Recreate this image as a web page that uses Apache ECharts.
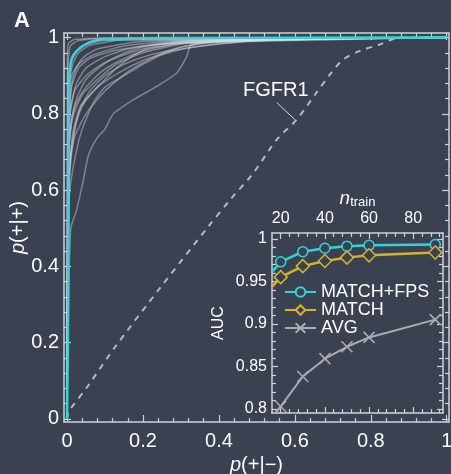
<!DOCTYPE html>
<html>
<head>
    <meta charset="utf-8">
    <title>ROC</title>
    <script src="https://cdn.jsdelivr.net/npm/echarts@6.0.0/dist/echarts.min.js"></script>
    <style>
        html, body { margin: 0; padding: 0; background: #3a4151; }
        #chartmain { width: 451px; height: 474px; }
    </style>
</head>
<body>
<div id="chartmain"></div>
<script type="text/javascript">

    // ROC curves of the single targets (grey), [p(+|-), p(+|+)]
    var rocCurves = [
        [[0,0],[0.004,0.3],[0.01,0.5],[0.025,0.547],[0.043,0.626],[0.056,0.69],[0.078,0.735],[0.1,0.76],[0.122,0.8],[0.175,0.837],[0.236,0.872],[0.289,0.907],[0.315,0.95],[0.328,0.982],[0.45,0.993],[0.7,0.998],[1,1]],
        [[0,0],[0.003,0.55],[0.01,0.7],[0.02,0.76],[0.04,0.82],[0.08,0.87],[0.14,0.91],[0.2,0.94],[0.26,0.96],[0.3,0.975],[0.4,0.99],[0.6,0.997],[1,1]],
        [[0,0],[0.004,0.65],[0.01,0.78],[0.025,0.83],[0.05,0.87],[0.09,0.91],[0.14,0.94],[0.2,0.965],[0.3,0.985],[0.5,0.996],[1,1]],
        [[0,0],[0.003,0.7],[0.008,0.8],[0.02,0.86],[0.05,0.9],[0.1,0.935],[0.18,0.965],[0.3,0.99],[1,1]],
        [[0,0],[0.005,0.6],[0.015,0.72],[0.03,0.8],[0.06,0.86],[0.1,0.9],[0.15,0.93],[0.22,0.955],[0.3,0.97],[0.45,0.988],[1,1]],
        [[0,0],[0.004,0.75],[0.01,0.86],[0.02,0.91],[0.04,0.945],[0.08,0.97],[0.2,0.99],[1,1]],
        [[0,0],[0.006,0.58],[0.02,0.68],[0.04,0.76],[0.07,0.83],[0.1,0.87],[0.15,0.9],[0.2,0.93],[0.25,0.955],[0.33,0.975],[0.5,0.992],[1,1]],
        [[0,0],[0.003,0.8],[0.008,0.89],[0.015,0.93],[0.03,0.96],[0.06,0.98],[0.15,0.994],[1,1]],
        [[0,0],[0.004,0.68],[0.012,0.78],[0.025,0.84],[0.05,0.89],[0.09,0.925],[0.13,0.95],[0.18,0.97],[0.25,0.985],[0.4,0.995],[1,1]],
        [[0,0],[0.002,0.85],[0.006,0.92],[0.015,0.955],[0.04,0.978],[0.1,0.993],[1,1]],
        [[0,0],[0.005,0.62],[0.015,0.75],[0.035,0.82],[0.06,0.85],[0.09,0.88],[0.13,0.92],[0.17,0.95],[0.21,0.97],[0.3,0.985],[0.55,0.995],[1,1]],
        [[0,0],[0.003,0.72],[0.01,0.82],[0.025,0.88],[0.05,0.92],[0.1,0.95],[0.16,0.97],[0.25,0.983],[0.4,0.99],[0.7,0.997],[1,1]],
        [[0,0],[0.002,0.9],[0.005,0.96],[0.01,0.98],[0.03,0.992],[0.1,0.998],[1,1]],
        [[0,0],[0.004,0.78],[0.012,0.87],[0.03,0.92],[0.06,0.945],[0.12,0.965],[0.22,0.98],[0.35,0.99],[1,1]],
        [[0,0],[0.001,0.95],[0.004,0.985],[0.02,0.995],[0.1,0.999],[1,1]],
        [[0,0],[0.006,0.66],[0.02,0.74],[0.05,0.8],[0.1,0.86],[0.16,0.91],[0.22,0.945],[0.28,0.97],[0.36,0.985],[0.6,0.996],[1,1]],
        [[0,0],[0.004,0.7],[0.015,0.79],[0.04,0.85],[0.08,0.89],[0.13,0.93],[0.2,0.96],[0.32,0.985],[1,1]],
        [[0,0],[0.003,0.82],[0.012,0.9],[0.03,0.93],[0.07,0.955],[0.15,0.978],[0.3,0.992],[1,1]]
    ];

    // averaged MATCH+FPS ROC (cyan)
    var rocMatchFps = [[0,0],[0.003,0.3],[0.004,0.85],[0.006,0.9],[0.008,0.916],[0.012,0.942],[0.025,0.964],[0.043,0.979],[0.069,0.991],[0.113,0.9955],[0.2,0.998],[0.289,0.999],[1,1]];

    // FGFR1 (dashed)
    var rocFgfr1 = [[0,0],[0.005,0.02],[0.054,0.085],[0.126,0.188],[0.25,0.35],[0.371,0.503],[0.429,0.574],[0.49,0.644],[0.552,0.732],[0.604,0.784],[0.653,0.85],[0.69,0.9],[0.727,0.942],[0.771,0.965],[0.824,0.982],[0.876,1],[1,1]];

    // inset: AUC vs n_train
    var nTrain = [16, 20, 30, 40, 50, 60, 90];
    var aucMatchFps = [0.961, 0.973, 0.985, 0.989, 0.9915, 0.9925, 0.9935];
    var aucMatch = [0.9435, 0.955, 0.968, 0.974, 0.978, 0.9807, 0.984];
    var aucAvg = [0.789, 0.8027, 0.838, 0.859, 0.873, 0.884, 0.905];

    // tick labels
    var mainTicks = [0, 0.2, 0.4, 0.6, 0.8, 1];
    var insetXTicks = [20, 40, 60, 80];
    var insetYTicks = [0.8, 0.85, 0.9, 0.95, 1];

    var bg = '#3a4151';
    var frame = '#cfd1d6';
    var font = 'Liberation Sans, Arial, Helvetica, sans-serif';

    function minorList(from, to, step, majors) {
        var out = [];
        for (var v = from; v <= to + 1e-9; v += step) {
            var r = Math.round(v * 1000) / 1000;
            var isMajor = majors.some(function (m) { return Math.abs(m - r) < 1e-6; });
            if (!isMajor) out.push(r);
        }
        return out;
    }

    // one frame side (ticks inside, optional labels)
    function side(gridIndex, pos, min, max, ticks, len, showLine, label) {
        var ax = {
            type: 'value', gridIndex: gridIndex, position: pos, min: min, max: max,
            axisLine: { show: showLine, onZero: false, lineStyle: { color: frame, width: 1.5 } },
            axisTick: { show: true, inside: true, length: len, customValues: ticks, lineStyle: { color: frame, width: 1.2 } },
            axisLabel: { show: false },
            splitLine: { show: false }
        };
        if (label) {
            ax.axisLabel = {
                show: true, customValues: ticks, color: '#fff',
                fontFamily: font, fontSize: label.size, margin: label.margin
            };
        }
        return ax;
    }

    var mainMinor = minorList(0, 1, 0.04, mainTicks);
    var inXMinor = minorList(16, 92, 4, insetXTicks);
    var inYMinor = minorList(0.8, 1, 0.01, insetYTicks);

    var mx = [-0.008, 1.006], my = [-0.008, 1.012];
    var ix = [16.05, 93.5], iy = [0.795, 1.007];

    var xAxes = [
        side(0, 'bottom', mx[0], mx[1], mainTicks, 7, true, { size: 20, margin: 9 }),
        side(0, 'bottom', mx[0], mx[1], mainMinor, 4, false),
        side(0, 'top', mx[0], mx[1], mainTicks, 7, true),
        side(0, 'top', mx[0], mx[1], mainMinor, 4, false),
        side(1, 'top', ix[0], ix[1], insetXTicks, 6, true, { size: 16, margin: 6 }),
        side(1, 'top', ix[0], ix[1], inXMinor, 4, false),
        side(1, 'bottom', ix[0], ix[1], insetXTicks, 6, true),
        side(1, 'bottom', ix[0], ix[1], inXMinor, 4, false)
    ];
    var yAxes = [
        side(0, 'left', my[0], my[1], mainTicks, 7, true, { size: 20, margin: 5 }),
        side(0, 'left', my[0], my[1], mainMinor, 4, false),
        side(0, 'right', my[0], my[1], mainTicks, 7, true),
        side(0, 'right', my[0], my[1], mainMinor, 4, false),
        side(1, 'left', iy[0], iy[1], insetYTicks, 6, true, { size: 16, margin: 5 }),
        side(1, 'left', iy[0], iy[1], inYMinor, 4, false),
        side(1, 'right', iy[0], iy[1], insetYTicks, 6, true),
        side(1, 'right', iy[0], iy[1], inYMinor, 4, false)
    ];

    // axis names
    xAxes[0].name = '{i|p}(+|\u2212)';
    xAxes[0].nameLocation = 'middle';
    xAxes[0].nameGap = 32;
    xAxes[0].nameTextStyle = { color: '#fff', fontFamily: font, fontSize: 20,
        rich: { i: { fontStyle: 'italic', fontSize: 20, color: '#fff', fontFamily: font } } };
    yAxes[0].name = '{i|p}(+|+)';
    yAxes[0].nameLocation = 'middle';
    yAxes[0].nameGap = 36;
    yAxes[0].nameMoveOverlap = false;
    yAxes[0].nameTextStyle = { color: '#fff', fontFamily: font, fontSize: 20,
        rich: { i: { fontStyle: 'italic', fontSize: 20, color: '#fff', fontFamily: font } } };
    xAxes[4].name = '{n|n}{s|train}';
    xAxes[4].nameLocation = 'middle';
    xAxes[4].nameGap = 24;
    xAxes[4].nameTextStyle = { color: '#fff', fontFamily: font,
        rich: {
            n: { fontStyle: 'italic', fontSize: 19, color: '#fff', fontFamily: font, lineHeight: 20 },
            s: { fontSize: 13, color: '#fff', fontFamily: font, lineHeight: 20, padding: [7, 0, 0, 0] }
        } };
    yAxes[4].name = 'AUC';
    yAxes[4].nameLocation = 'middle';
    yAxes[4].nameGap = 45;
    yAxes[4].nameTextStyle = { color: '#fff', fontFamily: font, fontSize: 16 };

    var series = [];
    rocCurves.forEach(function (c) {
        series.push({
            type: 'line', xAxisIndex: 0, yAxisIndex: 0, data: c,
            showSymbol: false, smooth: 0.2, silent: true,
            lineStyle: { color: 'rgba(225,225,228,0.42)', width: 1.5 }
        });
    });
    series.push({
        type: 'line', xAxisIndex: 0, yAxisIndex: 0, data: rocFgfr1,
        showSymbol: false, smooth: 0.3, silent: true,
        lineStyle: { color: '#b4b8c0', width: 2, type: [6, 6] },
        markLine: {
            symbol: 'none', silent: true, label: { show: false },
            lineStyle: { color: '#d8d8d8', width: 1, type: 'solid' },
            data: [[{ coord: [0.552, 0.83] }, { coord: [0.6, 0.785] }]]
        }
    });
    series.push({
        type: 'line', xAxisIndex: 0, yAxisIndex: 0, data: rocMatchFps, z: 4,
        showSymbol: false, smooth: 0.3, silent: true,
        lineStyle: { color: '#33d3d8', width: 2.5 }
    });

    function insetData(vals) {
        return nTrain.map(function (n, i) {
            var d = { value: [n, vals[i]] };
            if (i === 0) d.symbol = 'none';
            return d;
        });
    }

    series.push({
        name: 'MATCH+FPS', type: 'line', xAxisIndex: 4, yAxisIndex: 4,
        data: insetData(aucMatchFps), symbol: 'circle', symbolSize: 10, z: 5,
        lineStyle: { color: '#33d3d8', width: 2.5 },
        itemStyle: { color: bg, borderColor: '#33d3d8', borderWidth: 1.5 }
    });
    series.push({
        name: 'MATCH', type: 'line', xAxisIndex: 4, yAxisIndex: 4,
        data: insetData(aucMatch), symbol: 'diamond', symbolSize: 13, z: 5,
        lineStyle: { color: '#d4b526', width: 2.5 },
        itemStyle: { color: bg, borderColor: '#d4b526', borderWidth: 1.5 }
    });
    series.push({
        name: 'AVG', type: 'line', xAxisIndex: 4, yAxisIndex: 4,
        data: insetData(aucAvg), symbol: 'path://M0,0L10,10M10,0L0,10', symbolSize: 11, z: 5,
        lineStyle: { color: '#a9acb2', width: 2 },
        itemStyle: { color: 'none', borderColor: '#a9acb2', borderWidth: 1.6 }
    });

    var myChart = echarts.init(document.getElementById('chartmain'));
    myChart.setOption({
        backgroundColor: bg,
        animation: false,
        title: {
            text: 'A', left: 9, top: 5,
            textStyle: { color: '#fff', fontFamily: font, fontSize: 22, fontWeight: 'bold' }
        },
        legend: {
            data: ['MATCH+FPS', 'MATCH', 'AVG'],
            orient: 'vertical', left: 279, top: 278,
            itemWidth: 31, itemHeight: 12, itemGap: 0,
            textStyle: { color: '#fff', fontFamily: font, fontSize: 18, lineHeight: 16 }
        },
        grid: [
            { left: 64, right: 2, top: 33, bottom: 52, outerBoundsMode: 'none' },
            { left: 272, right: 8, top: 233, bottom: 61, outerBoundsMode: 'none' }
        ],
        graphic: [{
            type: 'text', left: 243, top: 80,
            style: { text: 'FGFR1', fill: '#fff', fontFamily: font, fontSize: 20 }
        }],
        xAxis: xAxes,
        yAxis: yAxes,
        series: series
    });

</script>
</body>
</html>
